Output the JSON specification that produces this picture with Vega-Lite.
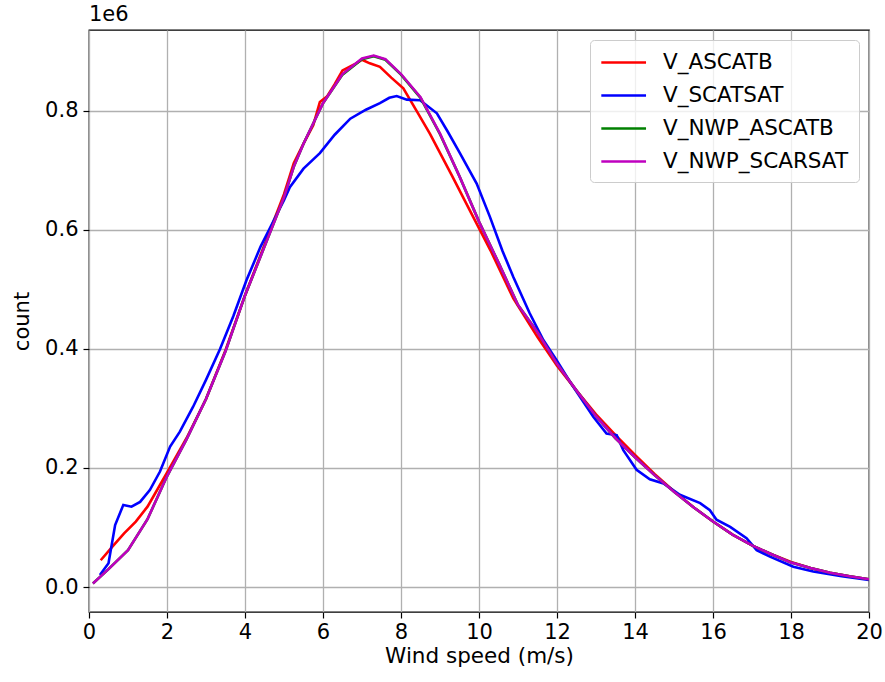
{
  "$schema": "https://vega.github.io/schema/vega-lite/v6.json",
  "width": 780,
  "height": 582,
  "autosize": "none",
  "padding": {"left": 89, "top": 30, "right": 16, "bottom": 70},
  "background": "white",
  "title": {"text": "1e6", "anchor": "start", "frame": "group", "fontSize": 21, "fontWeight": "normal", "font": "DejaVu Sans", "color": "#000000", "offset": 5},
  "config": {
    "view": {"stroke": "#000000", "strokeWidth": 1.3},
    "font": "DejaVu Sans"
  },
  "data": {"values": [
    {"s":"V_ASCATB","x":0.3,"y":45000},{"s":"V_ASCATB","x":0.6,"y":68000},{"s":"V_ASCATB","x":0.9,"y":90000},{"s":"V_ASCATB","x":1.2,"y":110000},{"s":"V_ASCATB","x":1.5,"y":135000},{"s":"V_ASCATB","x":2.0,"y":192000},{"s":"V_ASCATB","x":2.5,"y":250000},{"s":"V_ASCATB","x":3.0,"y":316000},{"s":"V_ASCATB","x":3.5,"y":398000},{"s":"V_ASCATB","x":4.0,"y":490000},{"s":"V_ASCATB","x":4.5,"y":575000},{"s":"V_ASCATB","x":5.0,"y":660000},{"s":"V_ASCATB","x":5.25,"y":712000},{"s":"V_ASCATB","x":5.5,"y":745000},{"s":"V_ASCATB","x":5.75,"y":776000},{"s":"V_ASCATB","x":5.92,"y":815000},{"s":"V_ASCATB","x":6.1,"y":824000},{"s":"V_ASCATB","x":6.3,"y":845000},{"s":"V_ASCATB","x":6.5,"y":868000},{"s":"V_ASCATB","x":6.8,"y":878000},{"s":"V_ASCATB","x":7.0,"y":886000},{"s":"V_ASCATB","x":7.2,"y":880000},{"s":"V_ASCATB","x":7.46,"y":874000},{"s":"V_ASCATB","x":7.75,"y":856000},{"s":"V_ASCATB","x":8.06,"y":838000},{"s":"V_ASCATB","x":8.4,"y":800000},{"s":"V_ASCATB","x":8.74,"y":762000},{"s":"V_ASCATB","x":9.3,"y":692000},{"s":"V_ASCATB","x":9.85,"y":622000},{"s":"V_ASCATB","x":10.3,"y":565000},{"s":"V_ASCATB","x":10.88,"y":485000},{"s":"V_ASCATB","x":11.5,"y":420000},{"s":"V_ASCATB","x":12.0,"y":372000},{"s":"V_ASCATB","x":12.5,"y":330000},{"s":"V_ASCATB","x":13.0,"y":290000},{"s":"V_ASCATB","x":13.5,"y":255000},{"s":"V_ASCATB","x":14.0,"y":222000},{"s":"V_ASCATB","x":14.5,"y":190000},{"s":"V_ASCATB","x":15.0,"y":161000},{"s":"V_ASCATB","x":15.5,"y":134000},{"s":"V_ASCATB","x":16.0,"y":110000},{"s":"V_ASCATB","x":16.5,"y":88000},{"s":"V_ASCATB","x":17.0,"y":70000},{"s":"V_ASCATB","x":17.5,"y":55000},{"s":"V_ASCATB","x":18.0,"y":42000},{"s":"V_ASCATB","x":18.5,"y":32000},{"s":"V_ASCATB","x":19.0,"y":24000},{"s":"V_ASCATB","x":19.5,"y":18000},{"s":"V_ASCATB","x":20.0,"y":13000},

    {"s":"V_SCATSAT","x":0.28,"y":20000},{"s":"V_SCATSAT","x":0.5,"y":40000},{"s":"V_SCATSAT","x":0.67,"y":104000},{"s":"V_SCATSAT","x":0.88,"y":138000},{"s":"V_SCATSAT","x":1.09,"y":135000},{"s":"V_SCATSAT","x":1.31,"y":143000},{"s":"V_SCATSAT","x":1.56,"y":163000},{"s":"V_SCATSAT","x":1.82,"y":194000},{"s":"V_SCATSAT","x":2.08,"y":236000},{"s":"V_SCATSAT","x":2.33,"y":261000},{"s":"V_SCATSAT","x":2.67,"y":303000},{"s":"V_SCATSAT","x":3.0,"y":348000},{"s":"V_SCATSAT","x":3.36,"y":400000},{"s":"V_SCATSAT","x":3.7,"y":455000},{"s":"V_SCATSAT","x":4.04,"y":516000},{"s":"V_SCATSAT","x":4.4,"y":572000},{"s":"V_SCATSAT","x":4.73,"y":615000},{"s":"V_SCATSAT","x":5.0,"y":650000},{"s":"V_SCATSAT","x":5.15,"y":672000},{"s":"V_SCATSAT","x":5.5,"y":703000},{"s":"V_SCATSAT","x":5.92,"y":729000},{"s":"V_SCATSAT","x":6.3,"y":760000},{"s":"V_SCATSAT","x":6.7,"y":787000},{"s":"V_SCATSAT","x":7.1,"y":802000},{"s":"V_SCATSAT","x":7.46,"y":813000},{"s":"V_SCATSAT","x":7.7,"y":822000},{"s":"V_SCATSAT","x":7.89,"y":825000},{"s":"V_SCATSAT","x":8.15,"y":819000},{"s":"V_SCATSAT","x":8.49,"y":818000},{"s":"V_SCATSAT","x":8.92,"y":796000},{"s":"V_SCATSAT","x":9.2,"y":765000},{"s":"V_SCATSAT","x":9.51,"y":729000},{"s":"V_SCATSAT","x":9.94,"y":678000},{"s":"V_SCATSAT","x":10.28,"y":622000},{"s":"V_SCATSAT","x":10.6,"y":565000},{"s":"V_SCATSAT","x":10.88,"y":521000},{"s":"V_SCATSAT","x":11.3,"y":460000},{"s":"V_SCATSAT","x":11.65,"y":415000},{"s":"V_SCATSAT","x":11.99,"y":381000},{"s":"V_SCATSAT","x":12.4,"y":338000},{"s":"V_SCATSAT","x":12.93,"y":286000},{"s":"V_SCATSAT","x":13.27,"y":258000},{"s":"V_SCATSAT","x":13.53,"y":255000},{"s":"V_SCATSAT","x":13.7,"y":230000},{"s":"V_SCATSAT","x":14.04,"y":197000},{"s":"V_SCATSAT","x":14.38,"y":181000},{"s":"V_SCATSAT","x":14.73,"y":174000},{"s":"V_SCATSAT","x":15.15,"y":155000},{"s":"V_SCATSAT","x":15.67,"y":141000},{"s":"V_SCATSAT","x":15.92,"y":129000},{"s":"V_SCATSAT","x":16.09,"y":113000},{"s":"V_SCATSAT","x":16.44,"y":101000},{"s":"V_SCATSAT","x":16.86,"y":82000},{"s":"V_SCATSAT","x":17.12,"y":62000},{"s":"V_SCATSAT","x":17.46,"y":51000},{"s":"V_SCATSAT","x":18.06,"y":34000},{"s":"V_SCATSAT","x":18.57,"y":26000},{"s":"V_SCATSAT","x":19.3,"y":18000},{"s":"V_SCATSAT","x":20.0,"y":12000},

    {"s":"V_NWP_ASCATB","x":0.1,"y":6000},{"s":"V_NWP_ASCATB","x":0.5,"y":30000},{"s":"V_NWP_ASCATB","x":1.0,"y":62000},{"s":"V_NWP_ASCATB","x":1.5,"y":114000},{"s":"V_NWP_ASCATB","x":2.0,"y":186000},{"s":"V_NWP_ASCATB","x":2.5,"y":248000},{"s":"V_NWP_ASCATB","x":3.0,"y":316000},{"s":"V_NWP_ASCATB","x":3.5,"y":396000},{"s":"V_NWP_ASCATB","x":4.0,"y":490000},{"s":"V_NWP_ASCATB","x":4.5,"y":572000},{"s":"V_NWP_ASCATB","x":5.0,"y":655000},{"s":"V_NWP_ASCATB","x":5.25,"y":706000},{"s":"V_NWP_ASCATB","x":5.5,"y":745000},{"s":"V_NWP_ASCATB","x":6.0,"y":813000},{"s":"V_NWP_ASCATB","x":6.5,"y":861000},{"s":"V_NWP_ASCATB","x":7.0,"y":887000},{"s":"V_NWP_ASCATB","x":7.3,"y":892000},{"s":"V_NWP_ASCATB","x":7.6,"y":886000},{"s":"V_NWP_ASCATB","x":8.0,"y":861000},{"s":"V_NWP_ASCATB","x":8.5,"y":822000},{"s":"V_NWP_ASCATB","x":9.0,"y":761000},{"s":"V_NWP_ASCATB","x":9.5,"y":690000},{"s":"V_NWP_ASCATB","x":10.0,"y":614000},{"s":"V_NWP_ASCATB","x":10.5,"y":545000},{"s":"V_NWP_ASCATB","x":11.0,"y":474000},{"s":"V_NWP_ASCATB","x":11.5,"y":428000},{"s":"V_NWP_ASCATB","x":12.0,"y":375000},{"s":"V_NWP_ASCATB","x":12.5,"y":330000},{"s":"V_NWP_ASCATB","x":13.0,"y":287000},{"s":"V_NWP_ASCATB","x":13.5,"y":250000},{"s":"V_NWP_ASCATB","x":14.0,"y":218000},{"s":"V_NWP_ASCATB","x":14.5,"y":188000},{"s":"V_NWP_ASCATB","x":15.0,"y":160000},{"s":"V_NWP_ASCATB","x":15.5,"y":134000},{"s":"V_NWP_ASCATB","x":16.0,"y":110000},{"s":"V_NWP_ASCATB","x":16.5,"y":88000},{"s":"V_NWP_ASCATB","x":17.0,"y":70000},{"s":"V_NWP_ASCATB","x":17.5,"y":55000},{"s":"V_NWP_ASCATB","x":18.0,"y":41000},{"s":"V_NWP_ASCATB","x":18.5,"y":32000},{"s":"V_NWP_ASCATB","x":19.0,"y":24000},{"s":"V_NWP_ASCATB","x":19.5,"y":18000},{"s":"V_NWP_ASCATB","x":20.0,"y":13000},

    {"s":"V_NWP_SCARSAT","x":0.1,"y":6000},{"s":"V_NWP_SCARSAT","x":0.5,"y":30000},{"s":"V_NWP_SCARSAT","x":1.0,"y":62000},{"s":"V_NWP_SCARSAT","x":1.5,"y":114000},{"s":"V_NWP_SCARSAT","x":2.0,"y":186000},{"s":"V_NWP_SCARSAT","x":2.5,"y":248000},{"s":"V_NWP_SCARSAT","x":3.0,"y":316000},{"s":"V_NWP_SCARSAT","x":3.5,"y":396000},{"s":"V_NWP_SCARSAT","x":4.0,"y":490000},{"s":"V_NWP_SCARSAT","x":4.5,"y":572000},{"s":"V_NWP_SCARSAT","x":5.0,"y":655000},{"s":"V_NWP_SCARSAT","x":5.25,"y":706000},{"s":"V_NWP_SCARSAT","x":5.5,"y":745000},{"s":"V_NWP_SCARSAT","x":6.0,"y":813000},{"s":"V_NWP_SCARSAT","x":6.5,"y":862000},{"s":"V_NWP_SCARSAT","x":7.0,"y":888000},{"s":"V_NWP_SCARSAT","x":7.3,"y":893000},{"s":"V_NWP_SCARSAT","x":7.6,"y":887000},{"s":"V_NWP_SCARSAT","x":8.0,"y":862000},{"s":"V_NWP_SCARSAT","x":8.5,"y":823000},{"s":"V_NWP_SCARSAT","x":9.0,"y":762000},{"s":"V_NWP_SCARSAT","x":9.5,"y":690000},{"s":"V_NWP_SCARSAT","x":10.0,"y":614000},{"s":"V_NWP_SCARSAT","x":10.5,"y":545000},{"s":"V_NWP_SCARSAT","x":11.0,"y":474000},{"s":"V_NWP_SCARSAT","x":11.5,"y":428000},{"s":"V_NWP_SCARSAT","x":12.0,"y":375000},{"s":"V_NWP_SCARSAT","x":12.5,"y":330000},{"s":"V_NWP_SCARSAT","x":13.0,"y":287000},{"s":"V_NWP_SCARSAT","x":13.5,"y":250000},{"s":"V_NWP_SCARSAT","x":14.0,"y":218000},{"s":"V_NWP_SCARSAT","x":14.5,"y":188000},{"s":"V_NWP_SCARSAT","x":15.0,"y":160000},{"s":"V_NWP_SCARSAT","x":15.5,"y":134000},{"s":"V_NWP_SCARSAT","x":16.0,"y":110000},{"s":"V_NWP_SCARSAT","x":16.5,"y":88000},{"s":"V_NWP_SCARSAT","x":17.0,"y":70000},{"s":"V_NWP_SCARSAT","x":17.5,"y":55000},{"s":"V_NWP_SCARSAT","x":18.0,"y":41000},{"s":"V_NWP_SCARSAT","x":18.5,"y":32000},{"s":"V_NWP_SCARSAT","x":19.0,"y":24000},{"s":"V_NWP_SCARSAT","x":19.5,"y":18000},{"s":"V_NWP_SCARSAT","x":20.0,"y":13000}
  ]},
  "mark": {"type": "line", "strokeWidth": 2.6, "interpolate": "linear", "clip": true},
  "encoding": {
    "x": {
      "field": "x", "type": "quantitative",
      "scale": {"domain": [0, 20], "nice": false, "zero": false},
      "axis": {
        "title": "Wind speed (m/s)", "values": [0,2,4,6,8,10,12,14,16,18,20],
        "labelFontSize": 21, "titleFontSize": 21.5, "titleFontWeight": "normal",
        "labelColor": "#000000", "titleColor": "#000000", "labelFont": "DejaVu Sans", "titleFont": "DejaVu Sans",
        "domain": false, "tickColor": "#000000", "tickSize": 6, "tickWidth": 1.2,
        "labelPadding": 3, "titlePadding": 3, "labelFlush": false,
        "grid": true, "gridColor": "#b0b0b0", "gridWidth": 1.3
      }
    },
    "y": {
      "field": "y", "type": "quantitative",
      "scale": {"domain": [-42000, 936000], "nice": false, "zero": false},
      "axis": {
        "title": "count", "values": [0,200000,400000,600000,800000],
        "labelExpr": "format(datum.value/1000000, '.1f')",
        "labelFontSize": 21, "titleFontSize": 21, "titleFontWeight": "normal",
        "labelColor": "#000000", "titleColor": "#000000", "labelFont": "DejaVu Sans", "titleFont": "DejaVu Sans",
        "domain": false, "tickColor": "#000000", "tickSize": 6, "tickWidth": 1.2,
        "labelPadding": 5, "titlePadding": 12,
        "grid": true, "gridColor": "#b0b0b0", "gridWidth": 1.3
      }
    },
    "color": {
      "field": "s", "type": "nominal",
      "scale": {"domain": ["V_ASCATB","V_SCATSAT","V_NWP_ASCATB","V_NWP_SCARSAT"], "range": ["#ff0000","#0000ff","#008000","#bf00bf"]},
      "legend": {
        "title": null, "orient": "top-right", "offset": 10,
        "symbolType": "M-1,0H3", "symbolSize": 500, "symbolStrokeWidth": 2.6,
        "labelFontSize": 21.5, "labelFont": "DejaVu Sans", "labelColor": "#000000", "labelLimit": 400,
        "labelOffset": 38, "rowPadding": 10,
        "fillColor": "rgba(255,255,255,0.8)", "strokeColor": "#cccccc", "cornerRadius": 4,
        "padding": 10
      }
    }
  }
}
